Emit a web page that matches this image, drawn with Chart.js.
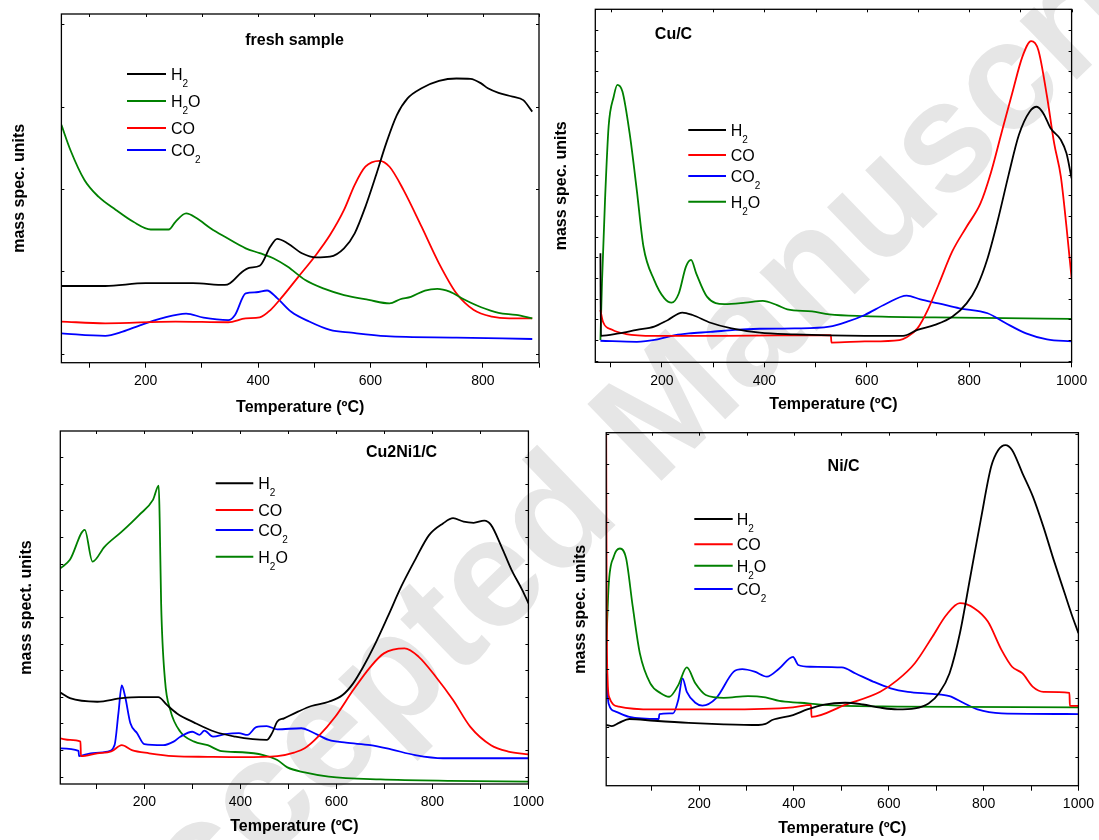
<!DOCTYPE html>
<html lang="en">
<head>
    <meta charset="UTF-8">
    <title>Mass spec profiles - fresh sample, Cu/C, Cu2Ni1/C, Ni/C</title>
    <script src="https://cdn.jsdelivr.net/npm/chart.js"></script>
    <style>
        body {
            margin: 0;
            background: #fff;
            font-family: "Liberation Sans", Arial, sans-serif;
        }
        #page {
            position: relative;
            width: 1099px;
            height: 840px;
            overflow: hidden;
        }
        #watermark {
            position: absolute;
            left: 648px;
            top: 420px;
            transform: translate(-50%, -50%) rotate(-44deg);
            font-size: 155px;
            font-weight: bold;
            color: #e6e6e6;
            white-space: nowrap;
            z-index: 0;
        }
        canvas {
            position: absolute;
            z-index: 1;
        }
    </style>
</head>
<body>
<div id="page">
    <div id="watermark">Accepted Manuscript</div>
    <canvas id="freshChart" width="549" height="420" style="left:0;top:0"></canvas>
    <canvas id="cuChart" width="550" height="420" style="left:549px;top:0"></canvas>
    <canvas id="cuniChart" width="549" height="420" style="left:0;top:420px"></canvas>
    <canvas id="niChart" width="550" height="420" style="left:549px;top:420px"></canvas>
</div>

<script>
    // [temperature ºC, signal (arbitrary units, 0-100 of the plot height)]
    const freshH2 = [[50,22.0],[128,22.0],[200,22.8],[284,22.8],[341,22.3],[350,22.8],[372,26.1],[384,27.2],[403,27.8],[422,33.3],[434,35.5],[453,34.2],[478,31.4],[503,30.2],[528,30.4],[553,32.8],[572,37.1],[591,44.7],[609,53.3],[628,62.9],[647,71.0],[666,75.8],[691,78.7],[722,80.8],[753,81.5],[778,81.4],[797,80.1],[809,78.7],[828,77.4],[853,76.3],[872,75.3],[888,72.0]];
    const freshH2O = [[50,68.2],[66,61.0],[91,52.4],[116,47.6],[147,43.8],[178,40.4],[209,38.2],[241,38.2],[253,40.4],[272,42.8],[291,41.4],[316,38.5],[341,36.1],[378,32.8],[403,31.4],[428,29.9],[453,27.5],[484,23.7],[516,21.3],[553,19.4],[597,18.0],[634,17.0],[653,18.2],[672,18.9],[697,20.7],[719,21.2],[741,20.4],[766,18.2],[797,15.9],[828,14.3],[859,13.7],[888,12.7]];
    const freshCO = [[50,11.8],[128,11.3],[253,11.8],[347,11.6],[378,12.7],[403,13.0],[422,15.1],[441,18.5],[472,24.7],[503,30.9],[528,36.6],[553,43.8],[572,51.0],[591,56.2],[616,57.9],[634,56.2],[659,49.5],[691,39.0],[722,28.5],[753,19.9],[784,15.1],[816,13.2],[847,12.7],[888,12.7]];
    const freshCO2 = [[50,8.4],[128,7.7],[159,8.9],[191,10.8],[228,12.7],[272,14.1],[303,12.9],[347,12.2],[359,13.7],[378,19.9],[397,20.2],[416,20.7],[434,18.5],[459,14.6],[491,11.8],[528,9.4],[566,8.6],[628,7.6],[753,7.2],[888,6.8]];

    const cuH2 = [[80,30.9],[80.8,7.5],[116,8.2],[151,9.2],[185,10.1],[212,12.0],[240,14.1],[260,13.4],[295,11.2],[336,9.6],[391,8.4],[459,7.9],[527,7.6],[596,7.5],[671,7.5],[699,9.2],[733,10.6],[767,12.9],[795,16.7],[815,21.4],[836,29.5],[856,40.3],[877,53.1],[897,64.4],[918,71.0],[932,72.4],[945,70.5],[959,66.3],[979,63.0],[990,59.2],[1000,52.1]];
    const cuCO = [[80,14.8],[85,11.5],[103,9.2],[130,8.0],[185,7.5],[322,7.5],[530,7.7],[531,5.6],[596,5.9],[664,6.3],[678,7.1],[699,9.6],[719,14.8],[740,21.9],[767,31.4],[795,38.4],[822,45.0],[842,53.5],[863,64.9],[884,76.2],[904,86.6],[921,91.0],[935,88.5],[952,75.3],[966,62.0],[979,52.6],[990,38.4],[1000,23.8]];
    const cuCO2 = [[80,6.1],[151,5.8],[192,6.5],[226,7.7],[253,8.2],[295,8.6],[342,9.2],[391,9.5],[459,9.6],[527,10.1],[562,11.5],[596,13.4],[637,16.5],[678,18.9],[705,17.8],[740,16.7],[781,15.3],[836,13.9],[870,11.2],[911,8.2],[952,6.5],[1000,5.9]];
    const cuH2O = [[80,6.3],[83,22.4],[89,46.0],[96,66.8],[106,75.3],[113,78.6],[123,76.7],[137,64.9],[151,48.8],[164,32.8],[185,23.3],[205,18.1],[219,16.9],[233,19.5],[247,27.1],[257,29.0],[267,25.2],[288,18.6],[322,16.5],[363,16.9],[397,17.4],[425,16.2],[445,15.0],[493,14.4],[527,13.6],[596,13.1],[733,12.7],[870,12.5],[1000,12.3]];

    const cuniH2 = [[25,25.9],[45,24.3],[102,23.3],[153,24.3],[189,24.6],[229,24.6],[247,22.4],[268,20.0],[304,17.4],[347,14.8],[390,13.4],[426,12.7],[455,12.5],[466,14.4],[477,17.7],[491,18.6],[520,20.5],[548,22.1],[584,23.3],[613,25.2],[635,28.5],[656,33.2],[678,38.9],[707,47.4],[735,55.9],[764,63.5],[793,70.5],[822,73.8],[843,75.3],[865,74.3],[886,74.0],[908,74.6],[922,73.4],[944,67.2],[965,60.6],[987,55.0],[1000,51.2]];
    const cuniCO = [[25,12.9],[45,12.5],[67,12.0],[68,7.9],[102,8.7],[131,9.2],[153,11.0],[174,9.6],[210,8.7],[261,7.9],[332,7.7],[404,7.6],[477,7.9],[512,8.9],[534,10.1],[562,13.4],[598,19.1],[635,26.6],[671,33.2],[699,37.0],[742,38.4],[771,36.1],[807,30.4],[843,23.8],[879,16.2],[922,11.0],[958,9.2],[1000,8.4]];
    const cuniCO2 = [[25,10.1],[63,9.4],[64,7.9],[88,8.7],[124,9.2],[138,11.0],[146,20.0],[153,27.9],[160,24.8],[171,17.2],[185,14.4],[200,11.3],[239,11.0],[261,12.0],[275,13.4],[300,14.8],[315,13.9],[325,15.1],[343,13.4],[368,14.1],[397,14.4],[415,13.9],[433,16.1],[455,16.4],[477,15.5],[527,15.8],[548,14.8],[584,12.5],[620,11.7],[671,11.0],[714,9.8],[764,8.2],[822,7.3],[1000,7.3]];
    const cuniH2O = [[25,61.1],[45,63.5],[76,72.0],[92,63.0],[117,67.2],[153,71.5],[189,76.2],[218,80.5],[230,84.5],[232,74.8],[235,51.2],[243,29.5],[254,21.0],[275,14.8],[304,12.0],[332,11.0],[361,9.3],[404,9.0],[448,8.2],[477,6.8],[498,4.7],[534,3.3],[584,2.1],[692,1.3],[836,0.9],[1000,0.7]];

    const niH2 = [[4,17.2],[16,16.9],[31,17.8],[53,18.9],[105,18.4],[178,17.8],[252,17.4],[325,17.2],[340,17.5],[354,18.6],[398,20.0],[428,21.6],[464,23.0],[508,23.5],[545,23.0],[582,22.1],[618,21.6],[655,21.9],[684,23.3],[706,26.2],[728,31.8],[750,43.2],[772,59.2],[794,75.3],[816,90.4],[831,95.1],[846,96.5],[860,95.1],[882,88.5],[904,81.9],[926,73.4],[948,63.9],[971,54.5],[985,48.8],[1000,43.2]];
    const niCO = [[4,99.8],[5,50],[7,30],[10,25.2],[31,22.4],[105,21.6],[252,21.6],[398,22.2],[436,22.9],[437,19.5],[508,22.9],[582,26.6],[618,29.9],[655,34.7],[692,42.2],[721,48.3],[750,51.7],[780,50.3],[809,46.5],[838,38.4],[860,33.7],[882,31.8],[904,28.0],[926,26.6],[981,26.3],[982,22.6],[1000,22.6]];
    const niH2O = [[4,38.4],[9,56.4],[20,64.9],[33,67.2],[46,64.4],[60,50.7],[75,37.5],[97,29.0],[119,26.2],[137,25.2],[156,28.5],[174,33.5],[192,29.0],[214,25.7],[252,24.9],[303,25.4],[340,25.0],[369,24.0],[413,23.5],[472,22.8],[618,22.4],[1000,22.2]];
    const niCO2 = [[4,31.8],[9,23.3],[24,21.0],[53,19.5],[115,18.9],[116,20.3],[145,20.5],[156,24.3],[165,30.4],[174,26.6],[192,23.5],[207,22.7],[236,24.8],[273,32.3],[291,33.0],[317,32.3],[343,30.9],[369,33.2],[398,36.5],[409,34.2],[435,33.7],[501,33.5],[530,31.8],[567,29.5],[604,27.6],[640,26.6],[692,26.0],[728,25.4],[757,23.5],[787,21.6],[838,20.5],[1000,20.3]];

    const COLORS = { H2: '#000000', H2O: '#008000', CO: '#ff0000', CO2: '#0000ff' };
    const FONT = '"Liberation Sans", Arial, sans-serif';

    // draws "H2O" etc. with the digits as subscripts
    function drawFormula(ctx, text, x, y) {
        ctx.textAlign = 'left';
        ctx.textBaseline = 'alphabetic';
        for (const ch of text) {
            if (/[0-9]/.test(ch)) {
                ctx.font = '10px ' + FONT;
                ctx.fillText(ch, x, y + 7);
            } else {
                ctx.font = '16px ' + FONT;
                ctx.fillText(ch, x, y);
            }
            x += ctx.measureText(ch).width;
        }
    }

    const panelText = {
        id: 'panelText',
        afterDraw(chart, args, opts) {
            const ctx = chart.ctx;
            const area = chart.chartArea;
            ctx.save();
            ctx.fillStyle = '#000';

            // frame + small inward ticks on top edge and both side edges
            ctx.strokeStyle = '#000';
            ctx.lineWidth = 1.3;
            ctx.strokeRect(area.left, area.top, area.right - area.left, area.bottom - area.top);
            const xs = chart.scales.x;
            const ys = chart.scales.y;
            ctx.lineWidth = 1;
            for (let v = Math.ceil(xs.min / 100) * 100; v <= xs.max; v += 100) {
                const px = Math.round(xs.getPixelForValue(v)) + 0.5;
                ctx.beginPath();
                ctx.moveTo(px, area.top);
                ctx.lineTo(px, area.top + 3);
                ctx.stroke();
            }
            for (let v = opts.yTick[0]; v < 100; v += opts.yTick[1]) {
                const py = Math.round(ys.getPixelForValue(v)) + 0.5;
                ctx.beginPath();
                ctx.moveTo(area.left, py);
                ctx.lineTo(area.left + 3, py);
                ctx.moveTo(area.right, py);
                ctx.lineTo(area.right - 3, py);
                ctx.stroke();
            }

            // panel title
            ctx.font = 'bold 16px ' + FONT;
            ctx.textAlign = 'center';
            ctx.textBaseline = 'alphabetic';
            ctx.fillText(opts.title, opts.titleX, opts.titleY);

            // legend
            chart.data.datasets.forEach((ds, i) => {
                const y = opts.legendY[i];
                ctx.strokeStyle = ds.borderColor;
                ctx.lineWidth = 2;
                ctx.beginPath();
                ctx.moveTo(opts.lineX[0], y);
                ctx.lineTo(opts.lineX[1], y);
                ctx.stroke();
                ctx.fillStyle = '#000';
                drawFormula(ctx, ds.label, opts.textX, y + 6);
            });
            ctx.restore();
        }
    };

    function makePanel(canvasId, p) {
        const datasets = p.series.map(s => ({
            label: s.label,
            data: s.points.map(pt => ({ x: pt[0], y: pt[1] })),
            borderColor: COLORS[s.label],
            borderWidth: 1.8,
            pointRadius: 0,
            fill: false,
            cubicInterpolationMode: 'monotone'
        }));

        new Chart(document.getElementById(canvasId), {
            type: 'line',
            data: { datasets: datasets },
            options: {
                responsive: false,
                animation: false,
                layout: { padding: { left: 0, top: p.padTop, right: p.padRight, bottom: 0 } },
                plugins: {
                    legend: { display: false },
                    tooltip: { enabled: false },
                    panelText: p.text
                },
                scales: {
                    x: {
                        type: 'linear',
                        min: p.xMin,
                        max: p.xMax,
                        afterFit: scale => { scale.height = p.xAxisH; },
                        // one tick every 100 ºC, label every 200 ºC
                        afterBuildTicks: scale => {
                            const ticks = [];
                            for (let v = Math.ceil(scale.min / 100) * 100; v <= scale.max; v += 100) {
                                ticks.push({ value: v });
                            }
                            scale.ticks = ticks;
                        },
                        ticks: {
                            autoSkip: false,
                            maxRotation: 0,
                            padding: 5,
                            color: '#000',
                            font: { family: FONT, size: 14 },
                            callback: v => (v % 200 === 0 ? v : '')
                        },
                        grid: { drawOnChartArea: false, tickLength: 5, color: '#000' },
                        border: { display: false },
                        title: {
                            display: true,
                            text: 'Temperature (ºC)',
                            color: '#000',
                            font: { family: FONT, size: 16, weight: 'bold' },
                            padding: { top: 0, bottom: p.xTitlePad }
                        }
                    },
                    y: {
                        min: 0,
                        max: 100,
                        afterFit: scale => { scale.width = p.yAxisW; },
                        ticks: { display: false },
                        grid: { display: false },
                        border: { display: false },
                        title: {
                            display: true,
                            text: p.yTitle,
                            color: '#000',
                            font: { family: FONT, size: 16, weight: 'bold' },
                            padding: { top: p.yTitlePad, bottom: 0 }
                        }
                    }
                }
            },
            plugins: [panelText]
        });
    }

    makePanel('freshChart', {
        series: [
            { label: 'H2', points: freshH2 },
            { label: 'H2O', points: freshH2O },
            { label: 'CO', points: freshCO },
            { label: 'CO2', points: freshCO2 }
        ],
        xMin: 50, xMax: 900,
        padTop: 14, padRight: 10, xAxisH: 57.3, yAxisW: 61.4,
        yTitle: 'mass spec. units', yTitlePad: 10, xTitlePad: 2.4,
        text: { title: 'fresh sample', titleX: 294.6, titleY: 45, lineX: [127, 166], textX: 171, legendY: [74, 101, 128, 150], yTick: [2.6, 23.6] }
    });

    makePanel('cuChart', {
        series: [
            { label: 'H2', points: cuH2 },
            { label: 'CO', points: cuCO },
            { label: 'CO2', points: cuCO2 },
            { label: 'H2O', points: cuH2O }
        ],
        xMin: 70, xMax: 1000,
        padTop: 9.3, padRight: 27.4, xAxisH: 57.7, yAxisW: 46.3,
        yTitle: 'mass spec. units', yTitlePad: 3, xTitlePad: 5.4,
        text: { title: 'Cu/C', titleX: 124.5, titleY: 39, lineX: [139.3, 177], textX: 181.7, legendY: [130, 155, 176, 201.7], yTick: [0.5, 5.85] }
    });

    makePanel('cuniChart', {
        series: [
            { label: 'H2', points: cuniH2 },
            { label: 'CO', points: cuniCO },
            { label: 'CO2', points: cuniCO2 },
            { label: 'H2O', points: cuniH2O }
        ],
        xMin: 25, xMax: 1000,
        padTop: 11, padRight: 13, xAxisH: 56, yAxisW: 60.3,
        yTitle: 'mass spect. units', yTitlePad: 17.4, xTitlePad: 3.4,
        text: { title: 'Cu2Ni1/C', titleX: 401.6, titleY: 36.7, lineX: [215.7, 253.3], textX: 258.3, legendY: [63.3, 90, 110, 136.7], yTick: [2.05, 7.55] }
    });

    makePanel('niChart', {
        series: [
            { label: 'H2', points: niH2 },
            { label: 'CO', points: niCO },
            { label: 'H2O', points: niH2O },
            { label: 'CO2', points: niCO2 }
        ],
        xMin: 4, xMax: 1000,
        padTop: 12.7, padRight: 16.9, xAxisH: 54.3, yAxisW: 57.2,
        yTitle: 'mass spec. units', yTitlePad: 22, xTitlePad: 1.4,
        text: { title: 'Ni/C', titleX: 294.6, titleY: 50.7, lineX: [145.3, 183.7], textX: 187.7, legendY: [99, 124.3, 145.7, 169], yTick: [8.2, 8.3] }
    });
</script>
</body>
</html>
